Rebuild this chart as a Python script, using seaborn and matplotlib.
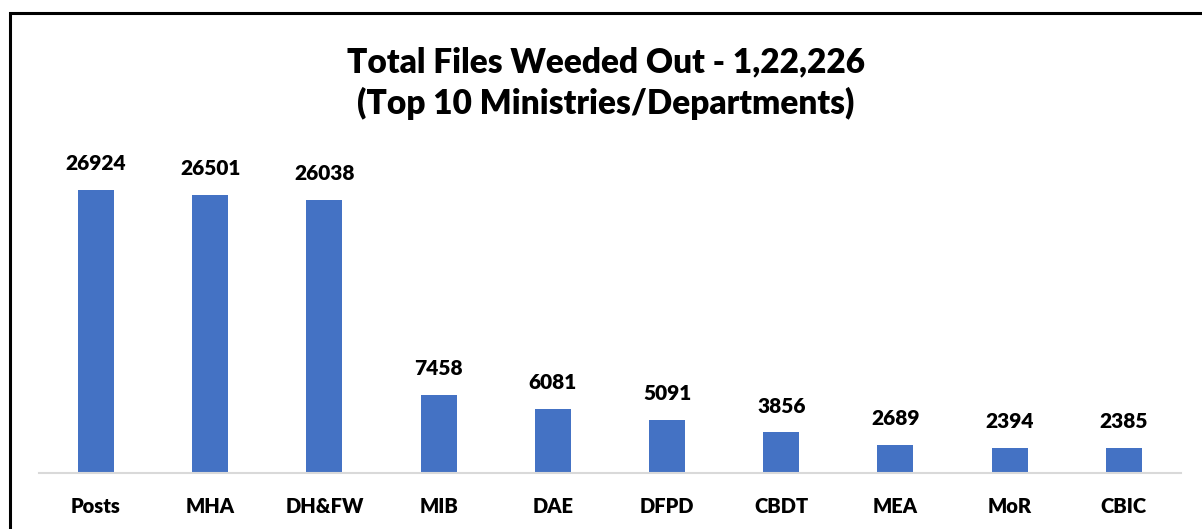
import matplotlib
matplotlib.use("Agg")
import matplotlib.pyplot as plt
import seaborn as sns
import pandas as pd
from matplotlib.patches import Rectangle

categories = ["Posts", "MHA", "DH&FW", "MIB", "DAE", "DFPD", "CBDT", "MEA", "MoR", "CBIC"]
values = [26924, 26501, 26038, 7458, 6081, 5091, 3856, 2689, 2394, 2385]
title_text = "Total Files Weeded Out - 1,22,226\n(Top 10 Ministries/Departments)"

sns.set_theme(style="white")
plt.rcParams['font.family'] = ['Lato', 'DejaVu Sans']

df = pd.DataFrame({"cat": categories, "val": values})

fig = plt.figure(figsize=(12.02, 5.29), dpi=100)
ax = fig.add_axes([0.0324, 0.1059, 0.9501, 0.5954])
sns.barplot(data=df, x="cat", y="val", color="#4472C4", width=0.315,
            saturation=1, ax=ax, edgecolor="none")
ax.set_xlim(-0.5, 9.5)
ax.set_ylim(0, 30000)
ax.set_xlabel("")
ax.set_ylabel("")
ax.set_yticks([])
for s in ["top", "right", "left"]:
    ax.spines[s].set_visible(False)
ax.spines["bottom"].set_color("#D9D9D9")
ax.spines["bottom"].set_linewidth(1.5)
ax.set_xticks(range(len(categories)))
ax.set_xticklabels(categories, fontsize=14.5, fontweight="heavy", color="black")
ax.tick_params(axis="x", length=0, pad=17)

for i, v in enumerate(values):
    ax.annotate(str(v), xy=(i, v), xytext=(0, 19), textcoords="offset points",
                ha="center", va="center", fontsize=15, fontweight="heavy", color="black")

fig.text(0.504, 0.843, title_text, ha="center", va="center", fontsize=24,
         fontweight="heavy", linespacing=1.3, color="black")

fig.patches.append(Rectangle((10/1202, -0.1), 1.2, 1 - 13/529 + 0.1,
                             transform=fig.transFigure, fill=False,
                             edgecolor="black", linewidth=2.2))

fig.savefig("out.png", dpi=100, facecolor="white")
